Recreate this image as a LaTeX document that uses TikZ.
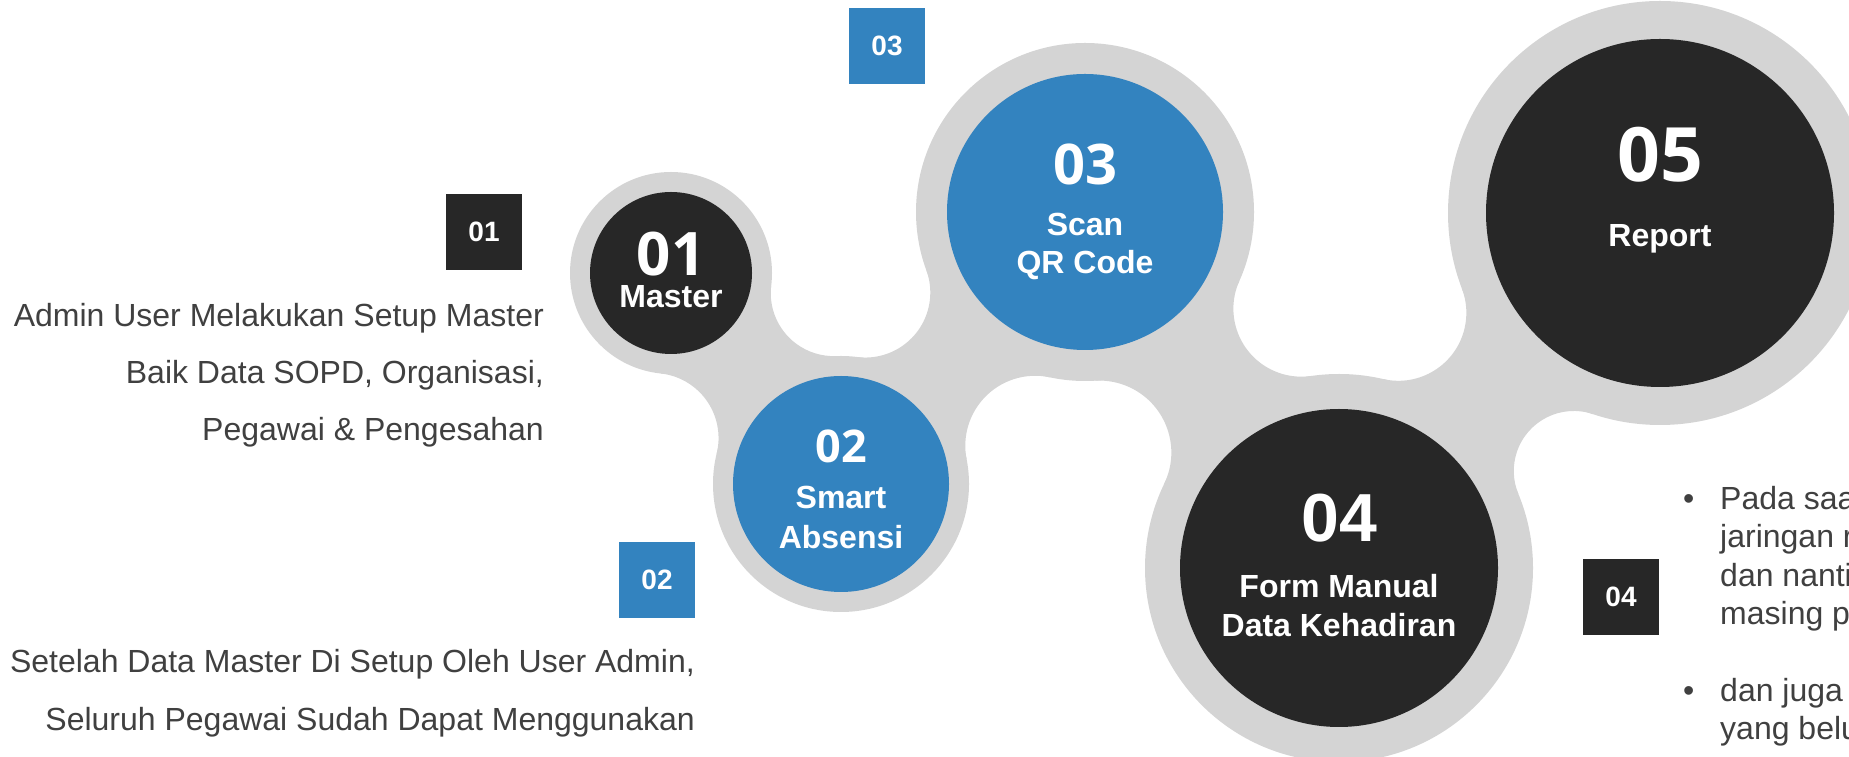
\documentclass[tikz,border=0pt]{standalone}
\usepackage{fontspec}
\setmainfont{Liberation Sans}
\newfontfamily\numfont{Open Sans}
\definecolor{darkc}{HTML}{272727}
\definecolor{bluec}{HTML}{3383BF}
\definecolor{ringc}{HTML}{D4D4D4}
\definecolor{txtc}{HTML}{404040}
% solve a bridging circle of radius #1 (hundreds of px) on side #2 (+1 left, -1 right)
\newcommand\necksolve[2]{%
  \pgfmathsetmacro\Rr{#1}%
  \pgfmathsetmacro\Rpx{100*(\Rr)}%
  \pgfmathsetmacro\aa{(\Ar)+(\Rr)}%
  \pgfmathsetmacro\bb{(\Br)+(\Rr)}%
  \pgfmathsetmacro\xx{((\aa)*(\aa)-(\bb)*(\bb)+(\dd)*(\dd))/(2*(\dd))}%
  \pgfmathsetmacro\hh{sqrt(max((\aa)*(\aa)-(\xx)*(\xx),0))}%
  \pgfmathsetmacro\Qx{(\Ax)+(\xx)*(\ux)-(#2)*(\hh)*(\uy)}%
  \pgfmathsetmacro\Qy{(\Ay)+(\xx)*(\uy)+(#2)*(\hh)*(\ux)}%
  \pgfmathsetmacro\Sa{atan2((\Ay)-(\Qy),(\Ax)-(\Qx))}%
  \pgfmathsetmacro\Eb{atan2((\By)-(\Qy),(\Bx)-(\Qx))}%
  \pgfmathsetmacro\Dl{(\Eb)-(\Sa)}%
  \pgfmathsetmacro\Dl{ifthenelse((\Dl)>180,(\Dl)-360,ifthenelse((\Dl)<-180,(\Dl)+360,\Dl))}%
}
% gray neck between circle (#1,#2) radius #3 and circle (#4,#5) radius #6
% #7 = bridge radius on the left of the direction 1->2, #8 = on the right
\newcommand\neckfill[8]{%
  \pgfmathsetmacro\Ax{(#1)/100}\pgfmathsetmacro\Ay{(#2)/100}\pgfmathsetmacro\Ar{(#3)/100}%
  \pgfmathsetmacro\Bx{(#4)/100}\pgfmathsetmacro\By{(#5)/100}\pgfmathsetmacro\Br{(#6)/100}%
  \pgfmathsetmacro\dd{veclen((\Bx)-(\Ax),(\By)-(\Ay))}%
  \pgfmathsetmacro\ux{((\Bx)-(\Ax))/(\dd)}%
  \pgfmathsetmacro\uy{((\By)-(\Ay))/(\dd)}%
  \necksolve{(#7)/100}{1}%
  \let\QAx\Qx \let\QAy\Qy \let\SAa\Sa \let\DAa\Dl \let\RAa\Rpx
  \necksolve{(#8)/100}{-1}%
  \let\QBx\Qx \let\QBy\Qy \let\EBb\Eb \let\DBb\Dl \let\RBb\Rpx
  \fill[ringc] ({100*(\QAx)+(\RAa)*cos(\SAa)},{100*(\QAy)+(\RAa)*sin(\SAa)})
     arc[start angle=\SAa, delta angle=\DAa, radius=\RAa pt]
     -- ({100*(\QBx)+(\RBb)*cos(\EBb)},{100*(\QBy)+(\RBb)*sin(\EBb)})
     arc[start angle=\EBb, delta angle={-(\DBb)}, radius=\RBb pt]
     -- cycle;
}
\tikzset{
  ring/.style={circle, fill=ringc, inner sep=0pt, draw=none},
  inner/.style={circle, inner sep=0pt, draw=none},
  numlab/.style={text=white, inner sep=0pt, anchor=base, font=\numfont\bfseries\fontsize{#1}{#1}\selectfont},
  numlabarial/.style={text=white, inner sep=0pt, anchor=base, font=\bfseries\fontsize{#1}{#1}\selectfont},
  sublab/.style={text=white, inner sep=0pt, anchor=base, font=\bfseries\fontsize{32}{38}\selectfont},
  tagbox/.style={minimum size=76pt, inner sep=0pt, text=white, font=\bfseries\fontsize{28}{28}\selectfont},
  bodytxt/.style={text=txtc, inner sep=0pt, font=\fontsize{32}{38}\selectfont},
}
\begin{document}
\begin{tikzpicture}[x=1pt,y=1pt]
\useasboundingbox (0,0) rectangle (1849,757);
\fill[white] (0,0) rectangle (1849,757);
% necks
\neckfill{671}{484}{101}{841}{273}{128}{63}{65}
\neckfill{841}{273}{128}{1085}{545}{169}{65}{70}
\neckfill{1085}{545}{169}{1339}{189}{194}{68}{72}
\neckfill{1339}{189}{194}{1660}{544}{212}{68}{60}
% gray rings
\node[ring, minimum size=202pt] (g1) at (671,484) {};
\node[ring, minimum size=256pt] (g2) at (841,273) {};
\node[ring, minimum size=338pt] (g3) at (1085,545) {};
\node[ring, minimum size=388pt] (g4) at (1339,189) {};
\node[ring, minimum size=424pt] (g5) at (1660,544) {};
% inner discs
\node[inner, fill=darkc, minimum size=162pt] (c1) at (671,484) {};
\node[inner, fill=bluec, minimum size=216pt] (c2) at (841,273) {};
\node[inner, fill=bluec, minimum size=276pt] (c3) at (1085,545) {};
\node[inner, fill=darkc, minimum size=318pt] (c4) at (1339,189) {};
\node[inner, fill=darkc, minimum size=348pt] (c5) at (1660,544) {};
% circle labels
\node[numlab=60, text height=43pt, text depth=0pt] (n1) at (671,481) {01};
\node[sublab, text height=23pt, text depth=0pt] (s1) at (671,449) {Master};
\node[numlab=45] (n2) at (841,294) {02};
\node[sublab] (s2a) at (841,248) {Smart};
\node[sublab] (s2b) at (841,208) {Absensi};
\node[numlab=56] (n3) at (1085,572) {03};
\node[sublab] (s3a) at (1085,521) {Scan};
\node[sublab] (s3b) at (1085,483) {QR Code};
\node[numlabarial=68] (n4) at (1339,215) {04};
\node[sublab] (s4a) at (1339,159) {Form Manual};
\node[sublab] (s4b) at (1339,120) {Data Kehadiran};
\node[numlab=75] (n5) at (1660,575) {05};
\node[sublab] (s5) at (1660,510) {Report};
% tag boxes
\node[tagbox, fill=darkc] (b1) at (484,525) {01};
\node[tagbox, fill=bluec] (b2) at (657,177) {02};
\node[tagbox, fill=bluec] (b3) at (887,711) {03};
\node[tagbox, fill=darkc] (b4) at (1621,160) {04};
% left texts
\node[bodytxt, anchor=base east] (t1a) at (544,430) {Admin User Melakukan Setup Master};
\node[bodytxt, anchor=base east] (t1b) at (544,373) {Baik Data SOPD, Organisasi,};
\node[bodytxt, anchor=base east] (t1c) at (544,316) {Pegawai \& Pengesahan};
\node[bodytxt, anchor=base east] (t2a) at (695,84) {Setelah Data Master Di Setup Oleh User Admin,};
\node[bodytxt, anchor=base east] (t2b) at (695,26) {Seluruh Pegawai Sudah Dapat Menggunakan};
% bullets
\node[bodytxt, anchor=base west] (d1) at (1683,247) {•};
\node[bodytxt, anchor=base west] (p1) at (1720,247) {Pada saa};
\node[bodytxt, anchor=base west] (p2) at (1720,209) {jaringan r};
\node[bodytxt, anchor=base west] (p3) at (1720,170) {dan nanti};
\node[bodytxt, anchor=base west] (p4) at (1720,132) {masing p};
\node[bodytxt, anchor=base west] (d2) at (1683,55) {•};
\node[bodytxt, anchor=base west] (q1) at (1720,55) {dan juga};
\node[bodytxt, anchor=base west] (q2) at (1720,17) {yang belu};
\end{tikzpicture}
\end{document}
